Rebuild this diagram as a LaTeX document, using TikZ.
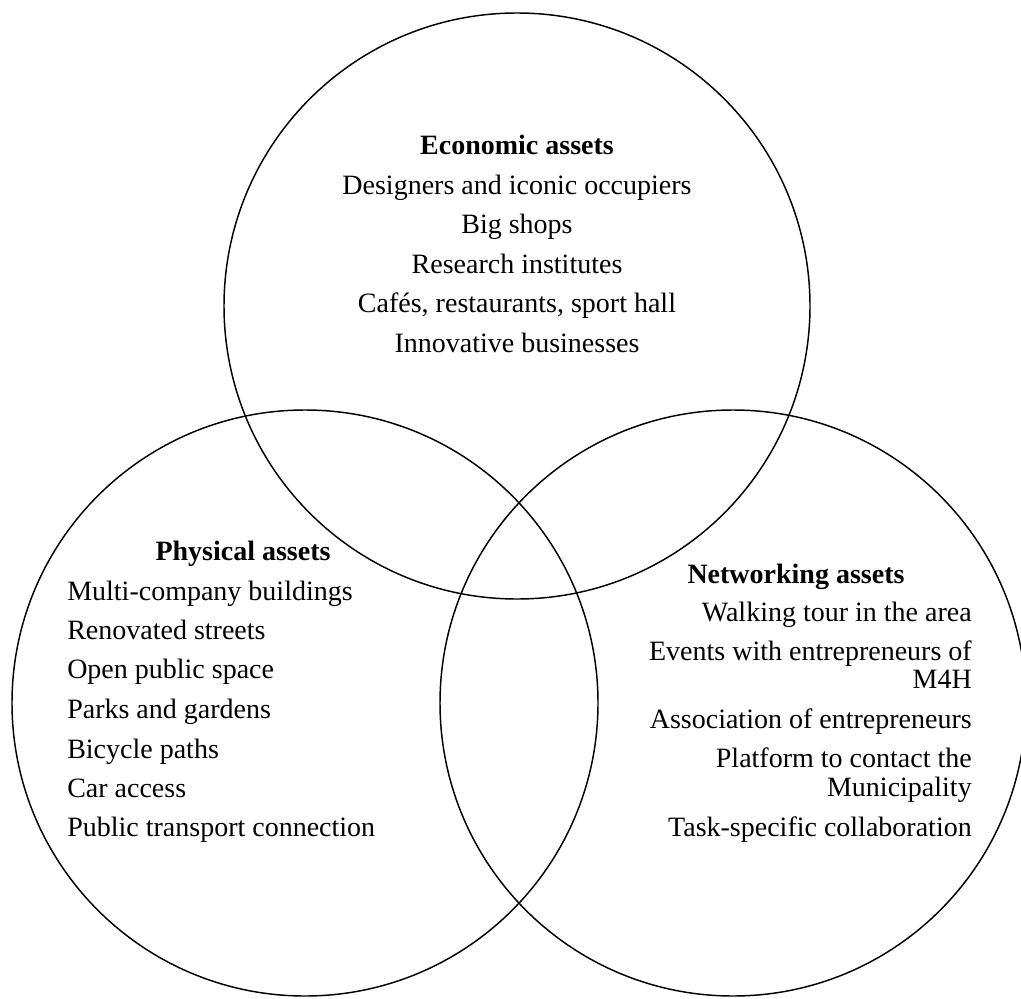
\documentclass[tikz,border=0pt]{standalone}
\usepackage{fontspec}
\setmainfont{Liberation Serif}
\begin{document}
\begin{tikzpicture}[x=0.75pt,y=-0.75pt,
  ring/.style={circle,draw=black,line width=1.1pt,inner sep=0pt,minimum size=439.5pt},
  txt/.style={inner sep=0pt,font=\fontsize{21}{25}\selectfont},
  head/.style={txt,font=\fontsize{21}{25}\selectfont\bfseries}]
\useasboundingbox (0,0) rectangle (1021,999);
% the three asset circles
\node[ring] (econ) at (517,306) {};
\node[ring] (phys) at (305,703) {};
\node[ring] (netw) at (733,703) {};
% economic assets
\node[head,anchor=mid] (eh) at (517,151) {Economic assets};
\node[txt,anchor=mid] (e1) at (517,191) {Designers and iconic occupiers};
\node[txt,anchor=mid] (e2) at (517,230) {Big shops};
\node[txt,anchor=mid] (e3) at (517,270) {Research institutes};
\node[txt,anchor=mid] (e4) at (517,309) {Cafés, restaurants, sport hall};
\node[txt,anchor=mid] (e5) at (517,349) {Innovative businesses};
% physical assets
\node[head,anchor=mid] (ph) at (243,557) {Physical assets};
\node[txt,anchor=mid west] (p1) at (67,597) {Multi-company buildings};
\node[txt,anchor=mid west] (p2) at (67,636) {Renovated streets};
\node[txt,anchor=mid west] (p3) at (67,675) {Open public space};
\node[txt,anchor=mid west] (p4) at (67,715) {Parks and gardens};
\node[txt,anchor=mid west] (p5) at (67,755) {Bicycle paths};
\node[txt,anchor=mid west] (p6) at (67,794) {Car access};
\node[txt,anchor=mid west] (p7) at (67,833) {Public transport connection};
% networking assets
\node[head,anchor=mid] (nh) at (796,580) {Networking assets};
\node[txt,anchor=mid east] (n1) at (972,618) {Walking tour in the area};
\node[txt,anchor=mid east] (n2) at (972,657) {Events with entrepreneurs of};
\node[txt,anchor=mid east] (n2b) at (972,685) {M4H};
\node[txt,anchor=mid east] (n3) at (972,725) {Association of entrepreneurs};
\node[txt,anchor=mid east] (n4) at (972,764) {Platform to contact the};
\node[txt,anchor=mid east] (n4b) at (972,793) {Municipality};
\node[txt,anchor=mid east] (n5) at (972,833) {Task-specific collaboration};
\end{tikzpicture}
\end{document}
